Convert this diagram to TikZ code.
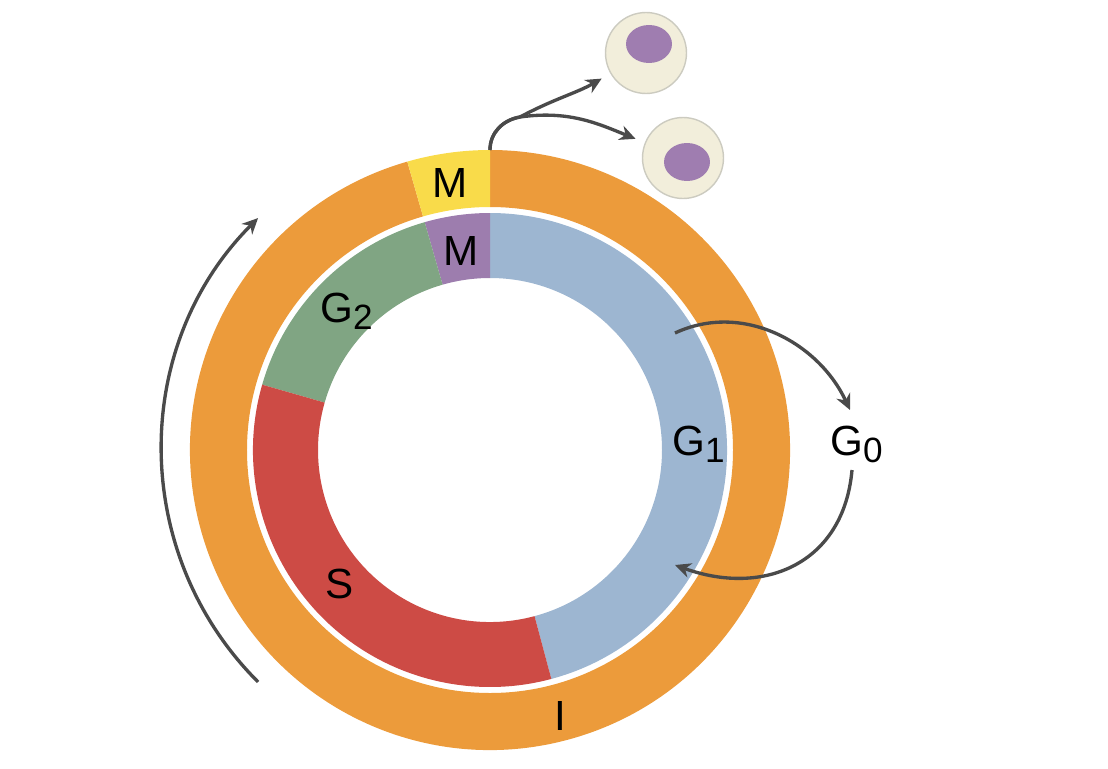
\documentclass[tikz,border=0pt]{standalone}
\usepackage{fontspec}
\setmainfont{Liberation Sans}
\usepackage{tikz}
\usetikzlibrary{arrows.meta, shapes.geometric}
\definecolor{ringorange}{HTML}{EC9B3B}
\definecolor{mitoyellow}{HTML}{F9DB4A}
\definecolor{goneblue}{HTML}{9DB6D1}
\definecolor{gtwogreen}{HTML}{80A583}
\definecolor{sred}{HTML}{CD4B45}
\definecolor{mpurple}{HTML}{9D7DAE}
\definecolor{cellcream}{HTML}{F2EEDB}
\definecolor{cellrim}{HTML}{CCCBC0}
\definecolor{nucpurple}{HTML}{9F7DB0}
\definecolor{arrgray}{HTML}{4A4A4A}
\newcommand{\phsub}[1]{\raisebox{-0.35ex}{\fontsize{20}{20}\selectfont #1}}

\begin{document}
\begin{tikzpicture}[x=0.02cm, y=0.02cm,
  lbl/.style={font=\fontsize{24}{24}\selectfont, inner sep=0pt, anchor=base west},
  flow/.style={draw=arrgray, line width=1.9pt, -{Stealth[length=9pt, width=8.5pt]}},
  cell/.style={circle, draw=cellrim, line width=0.8pt, fill=cellcream, minimum size=1.62cm, inner sep=0pt},
  nuc/.style={ellipse, fill=nucpurple, minimum width=0.92cm, minimum height=0.76cm, inner sep=0pt}
]
  \useasboundingbox (-490,-318) rectangle (618,450);

  % inner ring: G1, M, G2, S
  \foreach \a/\b/\c in {285/450/goneblue, 90/106/mpurple, 106/164/gtwogreen, 164/285/sred}
    \fill[\c] (\a:237) arc[start angle=\a, end angle=\b, radius=237] -- (\b:172) arc[start angle=\b, end angle=\a, radius=172] -- cycle;
  % outer ring: interphase and mitosis
  \foreach \a/\b/\c in {106/450/ringorange, 90/106/mitoyellow}
    \fill[\c] (\a:300) arc[start angle=\a, end angle=\b, radius=300] -- (\b:243) arc[start angle=\b, end angle=\a, radius=243] -- cycle;

  \node[lbl, anchor=base] (mOut) at (-40,253) {M};
  \node[lbl, anchor=base] (mIn) at (-29,185) {M};
  \node[lbl] (gTwo) at (-170,128) {G\phsub{2}};
  \node[lbl, anchor=base] (sLbl) at (-150,-148) {S};
  \node[lbl] (gOne) at (182,-5) {G\phsub{1}};
  \node[lbl] (gZero) at (340,-5) {G\phsub{0}};
  \node[lbl, anchor=base] (iLbl) at (70,-280) {I};

  % daughter cells
  \node[cell] (cellA) at (156,397) {};
  \node[nuc] (nucA) at (159,406) {};
  \node[cell] (cellB) at (193,292) {};
  \node[nuc] (nucB) at (197,288) {};

  \coordinate (split) at (90:300);
  \coordinate (fork) at (30,333);
  \draw[flow, shorten >=0.2cm] (split) to[out=90,in=190] (fork) to[out=28,in=210] (cellA);
  \draw[flow, shorten >=0.2cm] (split) to[out=90,in=190] (fork) to[out=8,in=158] (cellB);

  \coordinate (gOneOut) at (185,117);
  \coordinate (gZeroIn) at (360,40);
  \coordinate (gZeroOut) at (362,-20);
  \coordinate (gOneIn) at (185,-115);
  \draw[flow] (gOneOut) to[out=25,in=115] (gZeroIn);
  \draw[flow] (gZeroOut) to[out=265,in=340,looseness=1.2] (gOneIn);

  \coordinate (cycStart) at (225:328);
  \draw[flow] (cycStart) arc[start angle=225, end angle=135, radius=328];
\end{tikzpicture}
\end{document}
